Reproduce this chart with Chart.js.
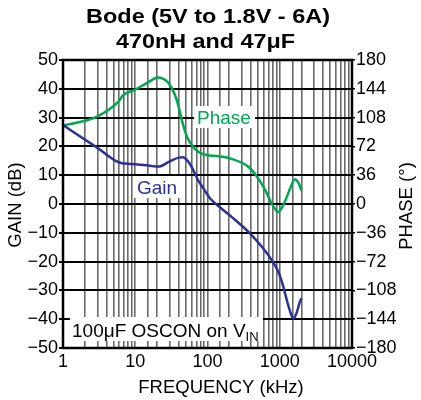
<!DOCTYPE html>
<html>
<head>
<meta charset="utf-8">
<script src="https://cdn.jsdelivr.net/npm/chart.js@4/dist/chart.umd.min.js"></script>
<style>
  html, body { margin: 0; padding: 0; background: #fff; }
  #wrap { width: 421px; height: 400px; }
</style>
</head>
<body>
<div id="wrap"><canvas id="bode" width="421" height="400"></canvas></div>
<script>
// values
const gainFreq = [1, 3, 6.2, 10, 15, 21, 30, 40, 46, 52, 60, 74, 90, 108, 150, 228, 386, 550, 770, 955, 1100, 1250, 1400, 1535, 1700, 1900, 2000];
const gainDb = [27.4, 19.5, 14.3, 13.8, 13.4, 13.0, 14.8, 16.1, 16.2, 15.2, 13, 8.3, 5, 2, -1.2, -5, -10.2, -14.5, -19.4, -23.5, -28, -33.3, -37.5, -39.7, -38, -34, -32.7];
const phaseFreq = [1, 2.9, 5.85, 6.8, 10, 15, 20.8, 30, 37.5, 46, 52, 60, 70, 83, 100, 134, 205, 385, 590, 815, 950, 1050, 1180, 1400, 1620, 1800, 2000];
const phaseDeg = [98, 109, 128, 136, 143, 152, 158, 149, 130, 99, 84, 74, 67, 63, 61, 60, 57, 45, 22, -3, -10, -6, 3, 20, 31, 27, 17];
const gainTicks = [-50, 50, 10];
const phaseTicks = [-180, 180, 36];
const freqRange = [1, 10000];

const FONT = '"Liberation Sans", Arial, sans-serif';
const GREEN = '#00a651';
const BLUE = '#2e3192';

const minus = v => String(v).replace('-', '\u2212');

function fitText(ctx, txt, x, y, w) {
  const m = ctx.measureText(txt).width;
  ctx.save();
  ctx.translate(x, y);
  ctx.scale(w / m, 1);
  ctx.fillText(txt, 0, 0);
  ctx.restore();
}

const decor = {
  id: 'decor',
  afterDatasetsDraw(chart) {
    const ctx = chart.ctx;
    const a = chart.chartArea;
    ctx.save();
    // frame
    ctx.strokeStyle = '#000';
    ctx.lineWidth = 2.5;
    ctx.strokeRect(a.left, a.top, a.right - a.left, a.bottom - a.top);

    // labels with white boxes
    ctx.fillStyle = '#fff';
    ctx.fillRect(194, 106, 61, 22);
    ctx.fillRect(134, 176, 48, 22);
    ctx.fillRect(70, 317, 193, 24);

    ctx.textBaseline = 'alphabetic';
    ctx.textAlign = 'left';
    ctx.font = '19px ' + FONT;
    ctx.fillStyle = GREEN;
    ctx.fillText('Phase', 197, 124);
    ctx.fillStyle = BLUE;
    ctx.fillText('Gain', 137, 194);

    ctx.fillStyle = '#000';
    ctx.font = '19px ' + FONT;
    const main = '100\u03bcF OSCON on V';
    ctx.fillText(main, 72, 337);
    const w = ctx.measureText(main).width;
    ctx.font = '13px ' + FONT;
    ctx.fillText('IN', 72 + w, 341);

    // titles
    ctx.font = 'bold 21px ' + FONT;
    ctx.textAlign = 'left';
    fitText(ctx, 'Bode (5V to 1.8V - 6A)', 86, 23, 244);
    fitText(ctx, '470nH and 47\u03bcF', 116, 48, 179);

    ctx.font = '18.5px ' + FONT;
    ctx.textAlign = 'center';
    ctx.fillText('FREQUENCY (kHz)', 221, 393);

    ctx.textBaseline = 'middle';
    ctx.save();
    ctx.translate(16, 205);
    ctx.rotate(-Math.PI / 2);
    ctx.fillText('GAIN (dB)', 0, 0);
    ctx.restore();
    ctx.save();
    ctx.translate(407, 206);
    ctx.rotate(-Math.PI / 2);
    ctx.fillText('PHASE (\u00b0)', 0, 0);
    ctx.restore();
    ctx.restore();
  }
};

new Chart(document.getElementById('bode'), {
  type: 'line',
  data: {
    datasets: [
      {
        label: 'Gain',
        data: gainFreq.map((f, i) => ({ x: f, y: gainDb[i] })),
        yAxisID: 'y',
        borderColor: BLUE,
        borderWidth: 2.5,
        pointRadius: 0,
        cubicInterpolationMode: 'monotone'
      },
      {
        label: 'Phase',
        data: phaseFreq.map((f, i) => ({ x: f, y: phaseDeg[i] })),
        yAxisID: 'y2',
        borderColor: GREEN,
        borderWidth: 2.5,
        pointRadius: 0,
        cubicInterpolationMode: 'monotone'
      }
    ]
  },
  options: {
    responsive: false,
    animation: false,
    layout: { padding: { top: 60, left: 0, right: 0, bottom: 0 } },
    plugins: { legend: { display: false }, tooltip: { enabled: false }, title: { display: false } },
    scales: {
      x: {
        type: 'logarithmic',
        min: freqRange[0],
        max: freqRange[1],
        afterFit: s => { s.height = 52; },
        grid: { color: '#6a6a6a', lineWidth: 1.6, drawTicks: false },
        border: { display: false },
        ticks: {
          autoSkip: false,
          maxRotation: 0,
          padding: 3,
          color: '#000',
          font: { family: FONT, size: 18 },
          callback: v => Number.isInteger(Math.log10(v)) ? String(v) : ''
        }
      },
      y: {
        position: 'left',
        min: gainTicks[0],
        max: gainTicks[1],
        afterFit: s => { s.width = 63; },
        grid: { color: '#000', lineWidth: 2, tickLength: 4 },
        border: { display: false },
        ticks: {
          stepSize: gainTicks[2],
          padding: 1,
          color: '#000',
          font: { family: FONT, size: 18 },
          callback: minus
        }
      },
      y2: {
        position: 'right',
        min: phaseTicks[0],
        max: phaseTicks[1],
        afterFit: s => { s.width = 69; },
        grid: { drawOnChartArea: false, color: '#000', lineWidth: 1.5, tickLength: 3 },
        border: { display: false },
        ticks: {
          stepSize: phaseTicks[2],
          padding: 1,
          color: '#000',
          font: { family: FONT, size: 18 },
          callback: minus
        }
      }
    }
  },
  plugins: [decor]
});
</script>
</body>
</html>
